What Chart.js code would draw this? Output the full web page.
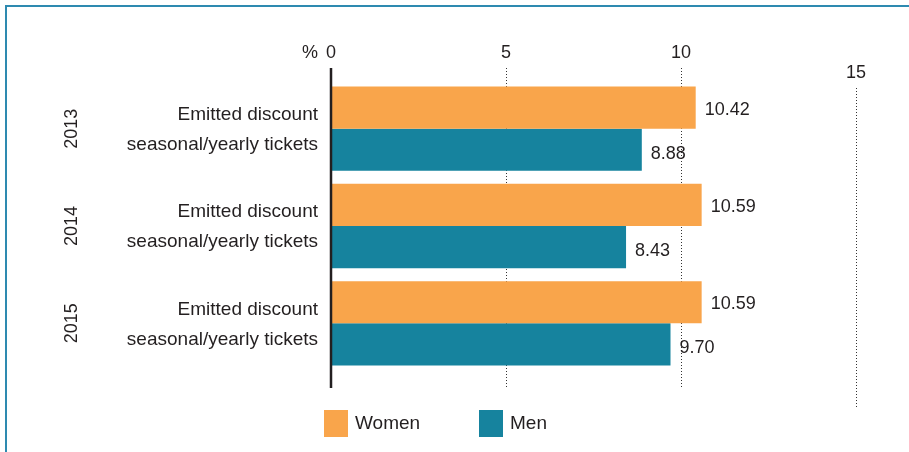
<!DOCTYPE html>
<html>
<head>
<meta charset="utf-8">
<script src="https://cdn.jsdelivr.net/npm/chart.js@4/dist/chart.umd.min.js"></script>
<style>
  html, body { margin: 0; padding: 0; background: #fff; }
  #wrap { position: relative; width: 909px; height: 452px; }
</style>
</head>
<body>
<div id="wrap"><canvas id="myBars" width="909" height="452"></canvas></div>
<script>
const years = ['2013', '2014', '2015'];
const categoryLines = ['Emitted discount', 'seasonal/yearly tickets'];
const women = [10.42, 10.59, 10.59];
const men = [8.88, 8.43, 9.70];
const xTicks = [0, 5, 10, 15];

const FONT = '"Liberation Sans", Arial, Helvetica, sans-serif';
const TEXT = '#231f20';

// draws the frame, the axis, gridlines, tick text, category text, values and legend
const decor = {
    id: 'decor',
    beforeDatasetsDraw(chart) {
        const ctx = chart.ctx;
        const x = chart.scales.x;
        const top = chart.chartArea.top, bottom = chart.chartArea.bottom;
        ctx.save();
        // frame
        ctx.strokeStyle = '#2e8ab0';
        ctx.lineWidth = 2;
        ctx.beginPath();
        ctx.moveTo(6, 452);
        ctx.lineTo(6, 6);
        ctx.lineTo(909, 6);
        ctx.stroke();
        // dotted gridlines
        ctx.strokeStyle = '#333';
        ctx.lineWidth = 1;
        ctx.setLineDash([1, 2]);
        for (const t of xTicks) {
            if (t === 0) continue;
            const px = Math.round(x.getPixelForValue(t)) + 0.5;
            const shift = t === 15 ? 20 : 0;
            ctx.beginPath();
            ctx.moveTo(px, top - 12 + shift);
            ctx.lineTo(px, bottom + 16 + shift);
            ctx.stroke();
        }
        ctx.restore();
    },
    afterDatasetsDraw(chart) {
        const ctx = chart.ctx;
        const x = chart.scales.x, y = chart.scales.y;
        const top = chart.chartArea.top, bottom = chart.chartArea.bottom;
        ctx.save();
        // zero axis
        const x0 = x.getPixelForValue(0);
        ctx.strokeStyle = '#231f20';
        ctx.lineWidth = 2.5;
        ctx.beginPath();
        ctx.moveTo(x0, top - 12);
        ctx.lineTo(x0, bottom + 16);
        ctx.stroke();

        // tick labels
        ctx.fillStyle = TEXT;
        ctx.font = '18px ' + FONT;
        ctx.textAlign = 'center';
        ctx.textBaseline = 'middle';
        for (const t of xTicks) {
            const shift = t === 15 ? 20 : 0;
            ctx.fillText(String(t), x.getPixelForValue(t), 53 + shift);
        }
        ctx.textAlign = 'right';
        ctx.fillText('%', x0 - 13, 53);

        // category labels and years
        years.forEach((yr, i) => {
            const cy = y.getPixelForValue(i);
            ctx.font = '19px ' + FONT;
            ctx.textAlign = 'right';
            ctx.fillText(categoryLines[0], 318, cy - 14);
            ctx.fillText(categoryLines[1], 318, cy + 16);
            ctx.save();
            ctx.translate(72, cy);
            ctx.rotate(-Math.PI / 2);
            ctx.textAlign = 'center';
            ctx.font = '18px ' + FONT;
            ctx.fillText(yr, 0, 0);
            ctx.restore();
        });

        // value labels
        ctx.font = '18px ' + FONT;
        ctx.textAlign = 'left';
        chart.data.datasets.forEach((ds, di) => {
            chart.getDatasetMeta(di).data.forEach((bar, i) => {
                ctx.fillText(ds.data[i].toFixed(2), bar.x + 9, bar.y + (di === 0 ? 2 : 4));
            });
        });

        // legend
        const legendX = [324, 479];
        chart.data.datasets.forEach((ds, di) => {
            ctx.fillStyle = ds.backgroundColor;
            ctx.fillRect(legendX[di], 410, 24, 27);
            ctx.fillStyle = TEXT;
            ctx.font = '19px ' + FONT;
            ctx.fillText(ds.label, legendX[di] + 31, 424);
        });
        ctx.restore();
    }
};

new Chart(document.getElementById('myBars'), {
    type: 'bar',
    data: {
        labels: years,
        datasets: [
            { label: 'Women', data: women, backgroundColor: '#f9a54b' },
            { label: 'Men', data: men, backgroundColor: '#16839e' }
        ]
    },
    options: {
        indexAxis: 'y',
        responsive: false,
        animation: false,
        layout: { padding: { left: 331, right: 53, top: 80, bottom: 80 } },
        categoryPercentage: 0.866,
        barPercentage: 1,
        scales: {
            x: { min: 0, max: 15, display: false },
            y: { display: false }
        },
        plugins: {
            legend: { display: false },
            tooltip: { enabled: false }
        }
    },
    plugins: [decor]
});
</script>
</body>
</html>
